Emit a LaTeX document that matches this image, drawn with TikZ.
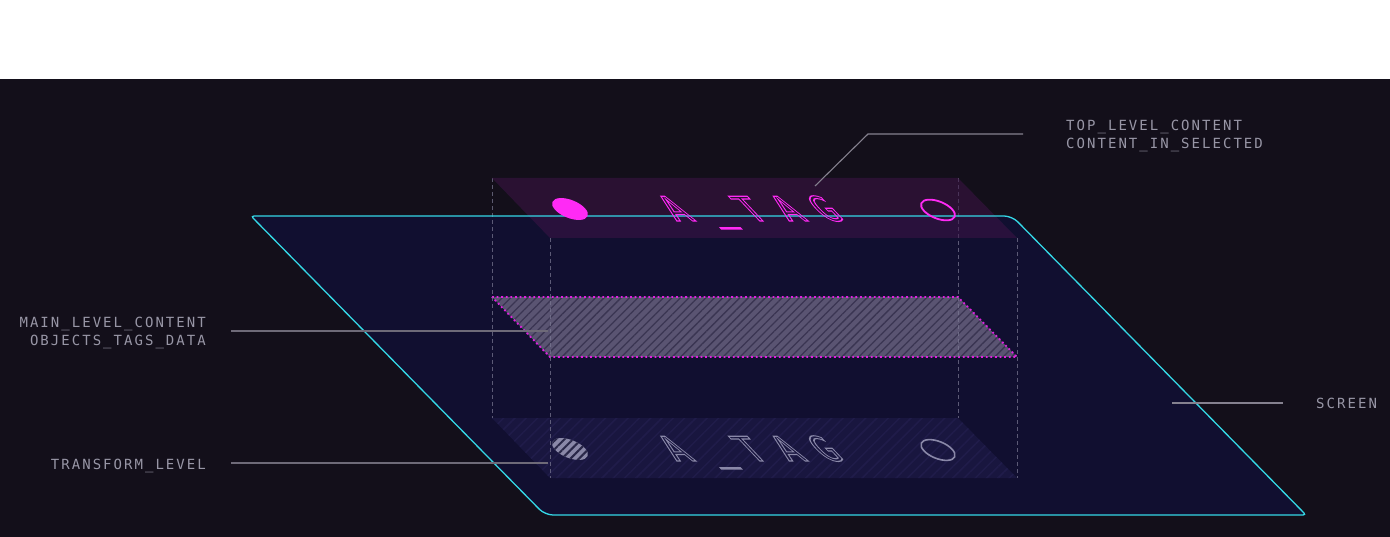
\documentclass[tikz,border=0pt]{standalone}
\usepackage{fontspec}
\usetikzlibrary{patterns.meta}
\newfontfamily\lblfont[LetterSpace=14.5]{DejaVu Sans Mono}
\newfontfamily\tagfont[LetterSpace=50]{DejaVu Sans Mono}
\newcommand\outlinetxt[1]{\special{pdf:literal direct 1 Tr 1.1 w}#1\special{pdf:literal direct 0 Tr}}
\definecolor{bgdark}{HTML}{130F1A}
\definecolor{screenfill}{HTML}{110F30}
\definecolor{cyanline}{HTML}{35D8E6}
\definecolor{toplayer}{HTML}{3D1447}
\definecolor{mag}{HTML}{FF2AF5}
\definecolor{magdot}{HTML}{E020E0}
\definecolor{midfill}{HTML}{5A5472}
\definecolor{midhatch}{HTML}{3A3552}
\definecolor{botfill}{HTML}{19163F}
\definecolor{bothatch}{HTML}{201C4A}
\definecolor{botink}{HTML}{8A88A8}
\definecolor{lblcol}{HTML}{9896A6}
\definecolor{leadercol}{HTML}{85818F}
\definecolor{dashcol}{HTML}{7C7A94}
\tikzset{
  lbl/.style={font=\lblfont\fontsize{14}{14}\selectfont, text=lblcol, inner sep=0pt},
  tagtext/.style={font=\tagfont\fontsize{34}{34}\selectfont, inner sep=0pt, transform shape, anchor=base west},
  leader/.style={draw=leadercol, line width=1.1pt},
  dashline/.style={draw=dashcol, line width=0.9pt, dash pattern=on 4pt off 3pt, opacity=0.7},
  screenedge/.style={draw=cyanline, line width=1.3pt},
}
\begin{document}
\begin{tikzpicture}[x=1pt,y=-1pt]
\useasboundingbox (0,0) rectangle (1390,537);
\fill[white] (0,0) rectangle (1390,79);
\fill[bgdark] (0,79) rectangle (1390,537);
% screen
\coordinate (sTL) at (251,216);
\coordinate (sTR) at (1012,216);
\coordinate (sBR) at (1306,515);
\coordinate (sBL) at (545,515);
\coordinate (sTM) at (631,216);
\fill[screenfill] (sTM) [rounded corners=8pt] -- (sTR) [rounded corners=3pt] -- (sBR) [rounded corners=8pt] -- (sBL) [rounded corners=3pt] -- (sTL) -- cycle;
% layer coordinates
\coordinate (t1) at (492,178); \coordinate (t2) at (958,178); \coordinate (t3) at (1017,238); \coordinate (t4) at (550,238);
\coordinate (m1) at (492,297); \coordinate (m2) at (958,297); \coordinate (m3) at (1017,357); \coordinate (m4) at (550,357);
\coordinate (b1) at (492,418); \coordinate (b2) at (958,418); \coordinate (b3) at (1017,478); \coordinate (b4) at (550,478);
% bottom layer
\fill[botfill] (b1) -- (b2) -- (b3) -- (b4) -- cycle;
\fill[pattern={Lines[angle=45,distance=8pt,line width=1.5pt]}, pattern color=bothatch] (b1) -- (b2) -- (b3) -- (b4) -- cycle;
\fill[botink, rotate around={-22:(570,449)}] (570,449) ellipse [x radius=19, y radius=9];
\fill[pattern={Lines[angle=45,distance=6pt,line width=2pt]}, pattern color=screenfill!80!botink, rotate around={-22:(570,449)}] (570,449) ellipse [x radius=19, y radius=9];
\draw[botink, line width=1.6pt, rotate around={-22:(938,450)}] (938,450) ellipse [x radius=18, y radius=8.5];
\begin{scope}[shift={(676,461)}, xslant=-0.95]
  \node[tagtext, text=botink] (btag) at (0,0) {\outlinetxt{A\_TAG}};
\end{scope}
% middle layer
\fill[midfill] (m1) -- (m2) -- (m3) -- (m4) -- cycle;
\fill[pattern={Lines[angle=45,distance=6pt,line width=1.3pt]}, pattern color=midhatch] (m1) -- (m2) -- (m3) -- (m4) -- cycle;
\draw[magdot, line width=1.8pt, dash pattern=on 1.8pt off 2.8pt] (m1) -- (m2) -- (m3) -- (m4) -- cycle;
% dashed verticals
\draw[dashline] (t1) -- (b1);
\draw[dashline] (t4) -- (b4);
\draw[dashline] (t2) -- (b2);
\draw[dashline] (t3) -- (b3);
% top layer
\fill[toplayer, opacity=0.55] (t1) -- (t2) -- (t3) -- (t4) -- cycle;
% screen outline
\draw[screenedge] (sTM) [rounded corners=8pt] -- (sTR) [rounded corners=3pt] -- (sBR) [rounded corners=8pt] -- (sBL) [rounded corners=3pt] -- (sTL) -- cycle;
% top contents
\fill[mag, rotate around={-22:(570,209)}] (570,209) ellipse [x radius=19, y radius=9];
\draw[mag, line width=1.8pt, rotate around={-22:(938,210)}] (938,210) ellipse [x radius=18, y radius=8.5];
\begin{scope}[shift={(676,221)}, xslant=-0.95]
  \node[tagtext, text=mag] (ttag) at (0,0) {\outlinetxt{A\_TAG}};
\end{scope}
% labels
\node[lbl, anchor=base west] (toplbl1) at (1066,131) {TOP\_LEVEL\_CONTENT};
\node[lbl, anchor=base west] (toplbl2) at (1066,149) {CONTENT\_IN\_SELECTED};
\node[lbl, anchor=base east] (mainlbl1) at (206,328) {MAIN\_LEVEL\_CONTENT};
\node[lbl, anchor=base east] (mainlbl2) at (206,346) {OBJECTS\_TAGS\_DATA};
\node[lbl, anchor=base east] (translbl) at (206,469) {TRANSFORM\_LEVEL};
\node[lbl, anchor=base west] (scrlbl) at (1316,408) {SCREEN};
% leaders
\coordinate (ltA) at (1023,134); \coordinate (ltB) at (868,134); \coordinate (ltC) at (815,186);
\draw[leader] (ltA) -- (ltB) -- (ltC);
\coordinate (lmA) at (231,331); \coordinate (lmB) at (548,331);
\draw[leader, draw=leadercol!80!bgdark] (lmA) -- (lmB);
\coordinate (lbA) at (231,463); \coordinate (lbB) at (548,463);
\draw[leader, draw=leadercol!80!bgdark] (lbA) -- (lbB);
\coordinate (lsA) at (1172,403); \coordinate (lsB) at (1283,403);
\draw[leader] (lsA) -- (lsB);
\end{tikzpicture}
\end{document}
